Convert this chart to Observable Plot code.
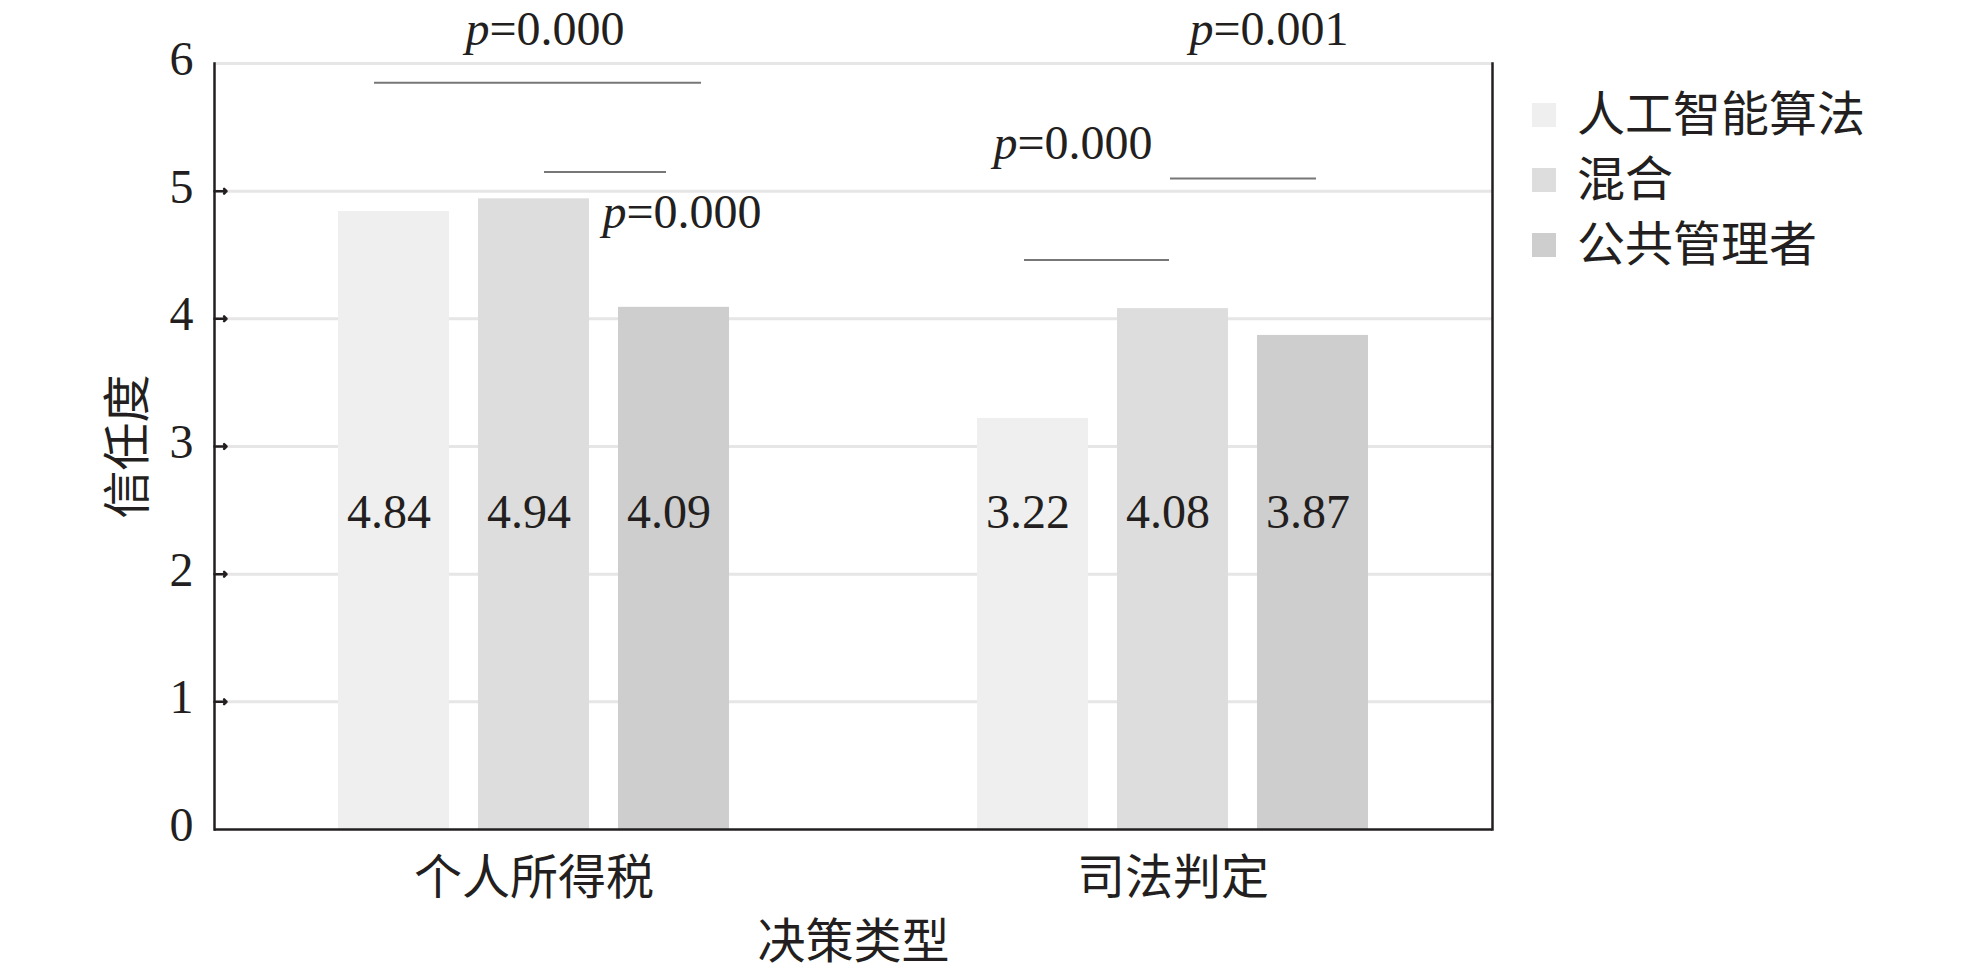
<!DOCTYPE html>
<html>
<head>
<meta charset="utf-8">
<script src="https://cdn.jsdelivr.net/npm/d3@7"></script>
<script src="https://cdn.jsdelivr.net/npm/@observablehq/plot@0.6"></script>
<style>
  body { margin: 0; background: #ffffff; }
  #wrap { position: relative; width: 1969px; height: 974px; }
  #legend { position: absolute; left: 1532px; top: 82px;
    font-family: "Liberation Serif", "Noto Sans CJK SC", serif; font-size: 48px; color: #231f20; }
  #legend .item { display: flex; align-items: center; height: 65px; line-height: 65px; white-space: nowrap; }
  #legend .sw { width: 24px; height: 24px; margin-right: 21px; flex: none; }
</style>
</head>
<body>
<div id="wrap"></div>
<script>
// ---- data ----
const groups = ["个人所得税", "司法判定"];
const series = ["人工智能算法", "混合", "公共管理者"];
const colors = ["#efefef", "#dddddd", "#cecece"];
const taxValues = [4.84, 4.94, 4.09];
const judicialValues = [3.22, 4.08, 3.87];
const yTicks = [0, 1, 2, 3, 4, 5, 6];
const yTitle = "信任度";
const xTitle = "决策类型";

// significance brackets
const bracketGroups = ["个人所得税", "个人所得税", "司法判定", "司法判定"];
const bracketFrom = ["人工智能算法", "混合", "混合", "人工智能算法"];
const bracketTo = ["公共管理者", "公共管理者", "公共管理者", "混合"];
const bracketLevels = [5.85, 5.15, 5.10, 4.46];

// p-value labels
const pGroups = ["个人所得税", "个人所得税", "司法判定", "司法判定"];
const pSeries = ["混合", "公共管理者", "人工智能算法", "公共管理者"];
const pLevels = [6.267, 4.83, 5.374, 6.267];
const pLabels = ["p=0.000", "p=0.000", "p=0.000", "p=0.001"];

// ---- tables ----
const valuesByGroup = [taxValues, judicialValues];
const data = [];
groups.forEach((g, gi) => series.forEach((s, si) =>
  data.push({group: g, series: s, value: valuesByGroup[gi][si]})));
const brackets = bracketGroups.map((g, i) => ({group: g, from: bracketFrom[i], to: bracketTo[i], y: bracketLevels[i]}));
const pvals = pGroups.map((g, i) => ({group: g, series: pSeries[i], y: pLevels[i], label: pLabels[i]}));

const ink = "#231f20";
const font = '"Liberation Serif", "Noto Sans CJK SC", serif';
// horizontal style offsets (px) for annotation placement
const pDx = [11, 8, 40, -44];
const bracketInsets = [[36, 28], [66, 63], [53, 52], [47, 59]];

const plot = Plot.plot({
  width: 1969,
  height: 974,
  marginLeft: 213,
  marginRight: 477,
  marginTop: 63,
  marginBottom: 145,
  style: {fontFamily: font, fontSize: "48px", color: ink, background: "#ffffff"},
  fx: {domain: groups, padding: 0},
  x: {domain: series, paddingInner: 0.21, paddingOuter: 0.873, axis: null},
  y: {domain: [0, 6]},
  color: {domain: series, range: colors},
  marks: [
    Plot.ruleY(yTicks.slice(1), {stroke: "#e6e6e6", strokeWidth: 3}),
    Plot.barY(data, {fx: "group", x: "series", y: "value", fill: "series"}),
    Plot.text(data, {fx: "group", x: "series", text: d => d.value.toFixed(2), frameAnchor: "middle", dy: 66, dx: -5, fill: ink}),
    ...brackets.map((d, i) => Plot.ruleY([d], {fx: "group", x1: "from", x2: "to", y: "y",
      insetLeft: bracketInsets[i][0], insetRight: bracketInsets[i][1], stroke: "#777777", strokeWidth: 2})),
    ...pvals.map((d, i) => Plot.text([d], {fx: "group", x: "series", y: "y", text: "label", dx: pDx[i], fill: ink})),
    Plot.ruleY([0], {stroke: ink, strokeWidth: 2.5}),
    Plot.frame({anchor: "left", facetAnchor: "left", stroke: ink, strokeWidth: 2.5}),
    Plot.frame({anchor: "right", facetAnchor: "right", stroke: ink, strokeWidth: 2.5}),
    Plot.vector(yTicks.slice(1, 6), {y: d => d, frameAnchor: "left", facetAnchor: "left",
      length: 12, rotate: 90, anchor: "start", stroke: ink, strokeWidth: 2.5}),
    Plot.axisY({ticks: yTicks, tickFormat: d => String(d), tickSize: 0, tickPadding: 21, dy: -4, fill: ink,
      label: yTitle, labelAnchor: "center", labelOffset: 105, labelArrow: "none"}),
    Plot.axisFx({anchor: "bottom", tickSize: 0, tickPadding: 30, fill: ink,
      label: xTitle, labelAnchor: "center", labelOffset: 128, labelArrow: "none"})
  ]
});

// italic p in the p-value labels
d3.select(plot).selectAll("text")
  .filter(function () { return /^p=/.test(this.textContent); })
  .each(function () {
    const t = this.textContent;
    const el = d3.select(this);
    el.text(null);
    el.append("tspan").attr("font-style", "italic").text("p");
    el.append("tspan").text(t.slice(1));
  });

const wrap = document.getElementById("wrap");
wrap.appendChild(plot);

// legend
const legend = d3.select(wrap).append("div").attr("id", "legend");
series.forEach((s, i) => {
  const item = legend.append("div").attr("class", "item");
  item.append("div").attr("class", "sw").style("background", colors[i]);
  item.append("span").text(s);
});
</script>
</body>
</html>
